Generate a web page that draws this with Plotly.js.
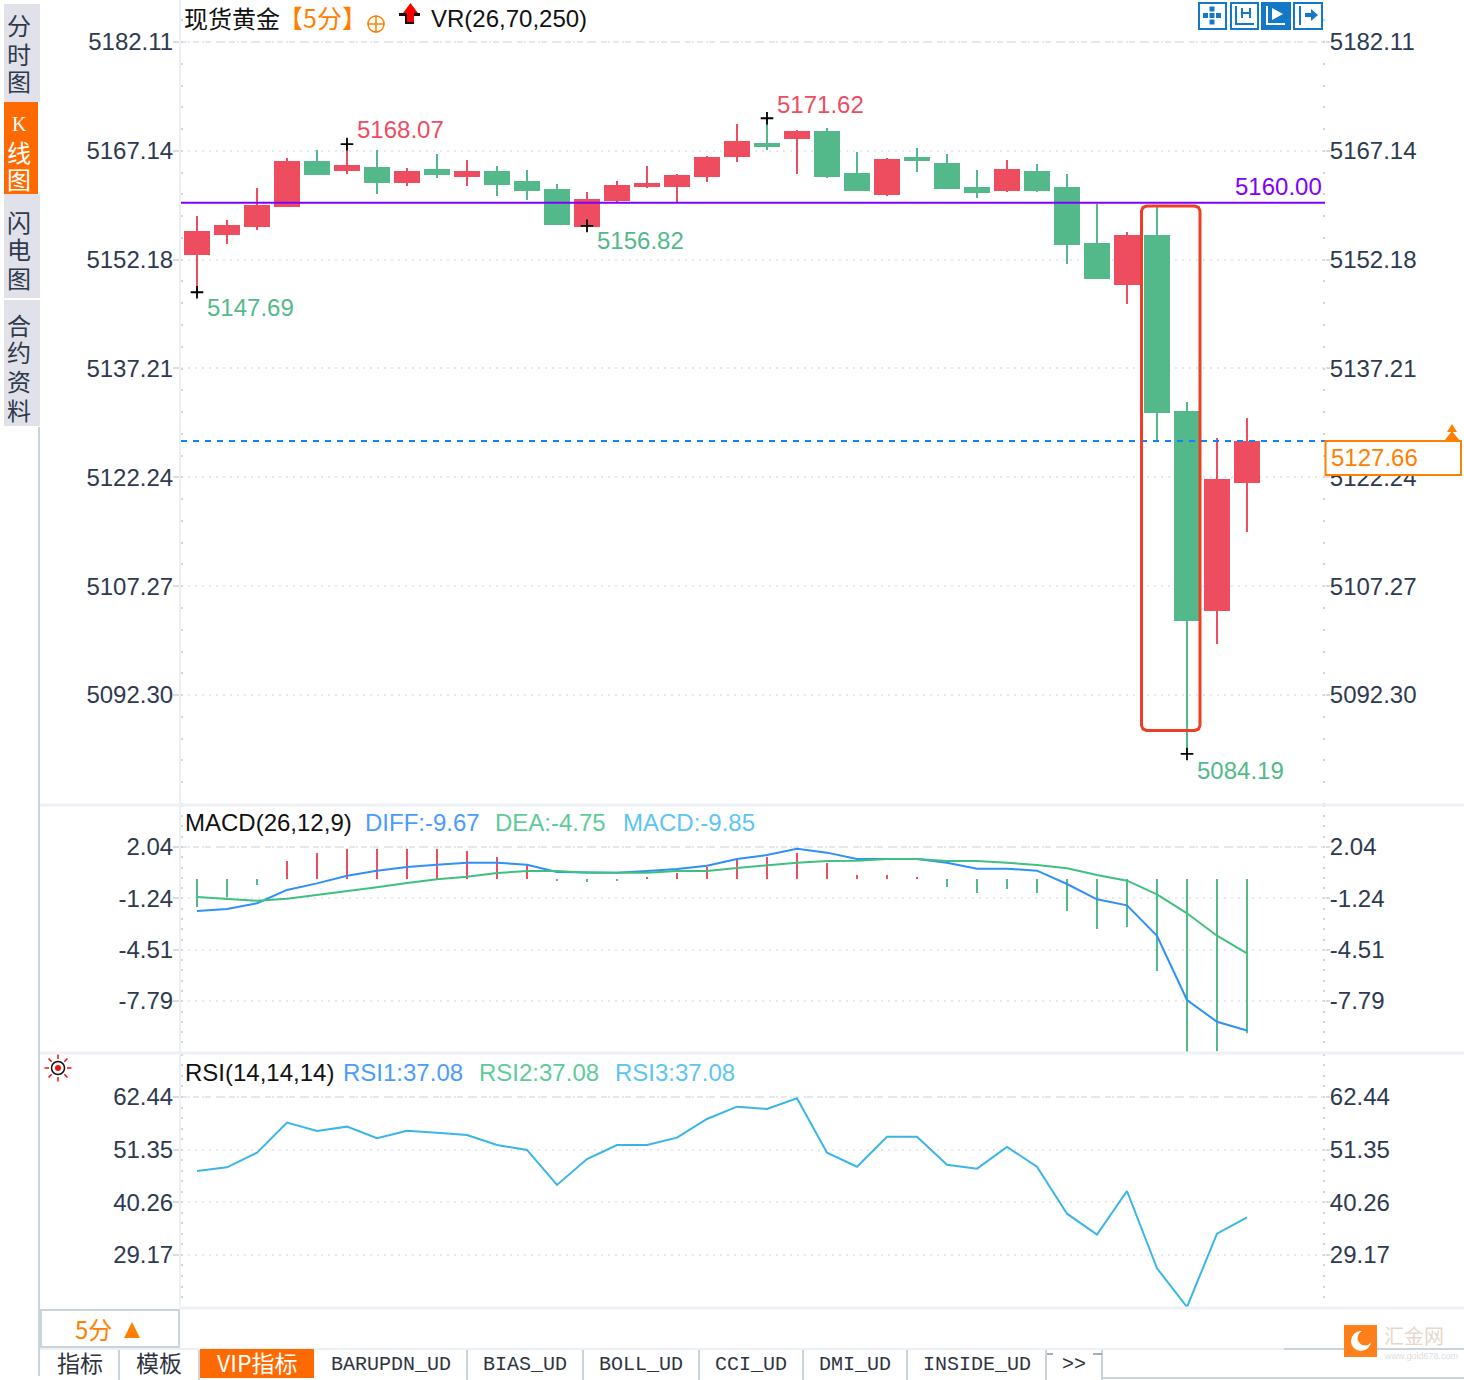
<!DOCTYPE html>
<html><head><meta charset="utf-8">
<script src="https://cdn.plot.ly/plotly-3.0.1.min.js"></script>
<style>html,body{margin:0;padding:0;background:#fff}#c{width:1464px;height:1380px}</style>
</head><body><div id="c"></div>
<script>
// ---------- data ----------
const candleIndex = [...Array(36).keys()];
const open  = [5152.95,5155.70,5156.80,5159.55,5165.61,5164.51,5164.78,5162.86,5164.51,5163.68,5164.23,5162.86,5161.76,5156.82,5160.38,5162.31,5162.31,5163.68,5166.43,5168.08,5168.91,5169.73,5163.96,5161.21,5166.16,5165.33,5162.03,5161.76,5164.23,5162.03,5154.33,5148.83,5155.43,5131.22,5104.00,5121.60];
const close = [5155.98,5156.80,5159.55,5165.61,5163.96,5165.06,5162.86,5164.23,5163.96,5164.23,5162.58,5161.76,5157.08,5160.38,5162.31,5162.58,5163.68,5166.16,5168.36,5167.81,5169.73,5163.68,5161.76,5165.88,5165.88,5162.03,5161.48,5164.51,5161.76,5154.33,5149.65,5155.43,5131.22,5102.62,5121.87,5127.10];
const high  = [5158.18,5157.63,5162.03,5166.16,5167.26,5168.07,5167.26,5164.78,5166.71,5165.88,5165.06,5164.51,5162.58,5161.48,5163.00,5165.06,5163.96,5166.43,5170.83,5171.62,5170.01,5170.28,5166.98,5166.16,5167.53,5166.71,5164.51,5165.88,5165.33,5163.96,5159.83,5155.98,5159.42,5132.60,5127.65,5130.40];
const low   = [5147.69,5154.33,5156.25,5159.55,5163.96,5163.96,5161.21,5162.31,5163.41,5162.31,5160.93,5160.38,5157.08,5156.82,5159.97,5162.03,5160.11,5162.86,5165.61,5167.26,5163.96,5163.41,5161.76,5160.93,5164.23,5162.03,5160.66,5161.48,5161.48,5151.58,5149.65,5146.08,5127.37,5084.19,5099.32,5114.72];
const markedIndex = [0,5,13,19,33];
const markedPrice = [5147.69,5168.07,5156.82,5171.62,5084.19];
const priceTicks = [5182.11,5167.14,5152.18,5137.21,5122.24,5107.27,5092.30];
const supportLevel = 5160.00;
const lastLineLevel = 5127.23;

const diff = [-2.04,-1.92,-1.55,-0.70,-0.28,0.21,0.53,0.76,0.91,1.04,1.04,0.91,0.44,0.40,0.40,0.51,0.64,0.85,1.27,1.53,1.93,1.68,1.27,1.27,1.27,1.04,0.66,0.66,0.53,-0.32,-1.30,-1.68,-3.62,-7.72,-9.11,-9.67];
const dea  = [-1.15,-1.26,-1.39,-1.26,-1.02,-0.81,-0.53,-0.26,-0.02,0.14,0.38,0.51,0.51,0.40,0.40,0.40,0.51,0.51,0.70,0.89,1.04,1.15,1.17,1.27,1.27,1.15,1.15,1.04,0.89,0.68,0.25,-0.11,-0.98,-2.19,-3.62,-4.75];
const macd = [-1.79,-1.19,-0.38,1.15,1.66,1.91,1.91,1.91,1.91,1.79,1.40,0.89,-0.13,-0.20,-0.13,0.13,0.38,0.77,1.28,1.40,1.66,1.02,0.26,0.26,0.13,-0.51,-0.89,-0.64,-0.89,-2.04,-3.19,-3.06,-5.87,-11.1,-11.0,-9.85];
const macdTicks = [2.04,-1.24,-4.51,-7.79];

const rsi = [46.86,47.63,50.71,57.03,55.28,56.19,53.74,55.34,54.92,54.44,52.33,51.28,43.91,49.38,52.33,52.33,53.87,57.81,60.40,59.91,62.17,50.71,47.76,54.08,54.08,48.18,47.34,51.91,47.76,37.86,33.44,42.64,26.36,18.21,33.65,37.08];
const rsiTicks = [62.44,51.35,40.26,29.17];

const sideTabs = [
  {chars:['分','时','图'],ys:[25,53,81],color:'#2f3a4c'},
  {chars:['K','线','图'],ys:[124,151,179],color:'#ffffff'},
  {chars:['闪','电','图'],ys:[221,249,277],color:'#2f3a4c'},
  {chars:['合','约','资','料'],ys:[325,352,380,409],color:'#2f3a4c'}
];
const bottomTabs = [
  {text:'指标',x0:41,x1:119},{text:'模板',x0:119,x1:199},{text:'VIP指标',x0:199,x1:315,active:true},
  {text:'BARUPDN_UD',x0:315,x1:467},{text:'BIAS_UD',x0:467,x1:583},{text:'BOLL_UD',x0:583,x1:699},
  {text:'CCI_UD',x0:699,x1:803},{text:'DMI_UD',x0:803,x1:907},{text:'INSIDE_UD',x0:907,x1:1046},{text:'>>',x0:1046,x1:1102}
];

// ---------- layout helpers ----------
const W=1464,H=1380;
const RED='#ee4d5f',GREEN='#53b98a',ORANGE='#ff8000',BLUE='#1478c8',INK='#2e3a50',LINE='#c9d3dc',PALE='#edf1f5';
const SANS='"Liberation Sans",Arial,sans-serif', CJK='"Noto Sans CJK SC","Liberation Sans",sans-serif', MONO='"Liberation Mono",monospace';
const px=x=>x/W, py=y=>1-y/H;
const shapes=[],annotations=[];
function rect(x0,y0,x1,y1,fill,line,lw){shapes.push({type:'rect',xref:'paper',yref:'paper',x0:px(x0),x1:px(x1),y0:py(y1),y1:py(y0),fillcolor:fill||'rgba(0,0,0,0)',line:{color:line||'rgba(0,0,0,0)',width:line?(lw||2):0},layer:'above'});}
function seg(x0,y0,x1,y1,color,lw,dash){shapes.push({type:'line',xref:'paper',yref:'paper',x0:px(x0),x1:px(x1),y0:py(y0),y1:py(y1),line:{color,width:lw||2,dash:dash||'solid'},layer:'above'});}
function circle(cx,cy,r,fill,line,lw){shapes.push({type:'circle',xref:'paper',yref:'paper',x0:px(cx-r),x1:px(cx+r),y0:py(cy+r),y1:py(cy-r),fillcolor:fill||'rgba(0,0,0,0)',line:{color:line||'rgba(0,0,0,0)',width:line?(lw||2):0},layer:'above'});}
function poly(pts,fill,line,lw,closed){const d=pts.map((p,i)=>(i?'L':'M')+px(p[0])+' '+py(p[1])).join(' ')+(closed===false?'':' Z');shapes.push({type:'path',xref:'paper',yref:'paper',path:d,fillcolor:fill||'rgba(0,0,0,0)',line:{color:line||'rgba(0,0,0,0)',width:line?(lw||2):0},layer:'above'});}
function label(x,y,text,color,size,anchor,family){annotations.push({xref:'paper',yref:'paper',x:px(x),y:py(y),text,showarrow:false,xanchor:anchor||'left',yanchor:'middle',borderpad:0,font:{color,size:size||24,family:family||SANS}});}

// sidebar
rect(4,4,40,102,'#e0e1e9');rect(4,102,38,194,'#ff6a00');rect(4,194,40,298,'#e0e1e9');rect(4,300,40,426,'#e0e1e9');
seg(39,427,39,1376,LINE,2);
sideTabs.forEach(t=>t.chars.forEach((c,i)=>label(19,t.ys[i],c,t.color,c==='K'?20:24,'center',c==='K'?'"Liberation Serif",serif':CJK)));

// panel separators
seg(40,805,1464,805,PALE,3);seg(40,1053,1464,1053,PALE,3);seg(180,1308,1464,1308,PALE,3);

// header row
label(183,17.5,'现货黄金','#111111',24,'left',CJK);
label(277,17.5,'【5分】',ORANGE,25,'left',CJK);
circle(376,24,8,null,ORANGE,1.5);seg(376,15,376,33,ORANGE,1.5);seg(367,24,385,24,ORANGE,1.5);
poly([[404,13],[399,13],[399,16],[405,16],[405,24],[414,24],[414,16],[420,16],[420,13],[415,13]],'#111111');
poly([[410.5,3],[418,13],[414,13],[414,22],[407,22],[407,13],[403,13]],'#ff0000');
label(430,19,'VR(26,70,250)','#111111',24);

// toolbar icons
rect(1199,3,1226,29,'#ffffff',BLUE,2);
[[1212,9],[1212,22],[1205.5,15.5],[1218.5,15.5],[1212,15.5]].forEach(p=>rect(p[0]-2.5,p[1]-2.5,p[0]+2.5,p[1]+2.5,BLUE));
rect(1231,3,1258,29,'#ffffff',BLUE,2);
poly([[1236,6],[1236,24],[1254,24]],null,BLUE,2,false);seg(1242,8,1242,18,BLUE,2);seg(1250,8,1250,18,BLUE,2);seg(1242,13,1250,13,BLUE,2);
rect(1262,3,1290,29,BLUE,BLUE,2);
poly([[1267,6],[1267,24],[1285,24]],null,'#ffffff',2,false);poly([[1272,8],[1283,14],[1272,20]],'#ffffff');
rect(1294,3,1322,29,'#ffffff',BLUE,2);
seg(1300,6,1300,25,BLUE,2);rect(1305,13,1312,17,BLUE);poly([[1311,9],[1318,15],[1311,21]],BLUE);

// price guides
shapes.push({type:'line',xref:'paper',yref:'y',x0:px(181),x1:px(1325),y0:priceTicks[0],y1:priceTicks[0],line:{color:'#e6e9ec',width:2,dash:'6px,6px'},layer:'below'});
shapes.push({type:'line',xref:'paper',yref:'y2',x0:px(181),x1:px(1325),y0:macdTicks[0],y1:macdTicks[0],line:{color:'#e6e9ec',width:2,dash:'6px,6px'},layer:'below'});
shapes.push({type:'line',xref:'paper',yref:'y3',x0:px(181),x1:px(1325),y0:rsiTicks[0],y1:rsiTicks[0],line:{color:'#e6e9ec',width:2,dash:'6px,6px'},layer:'below'});
shapes.push({type:'line',xref:'paper',yref:'y',x0:px(181),x1:px(1325),y0:supportLevel,y1:supportLevel,line:{color:'#8000ff',width:2},layer:'above'});
shapes.push({type:'line',xref:'paper',yref:'y',x0:px(181),x1:px(1325),y0:lastLineLevel,y1:lastLineLevel,line:{color:'#0a84ff',width:2,dash:'6px,6px'},layer:'above'});
label(1323,186,supportLevel.toFixed(2),'#8000ff',24,'right');

// last price box
rect(1325.5,441,1461,475,'#ffffff',ORANGE,2);
label(1330,457,'5127.66',ORANGE,24);
poly([[1452,424],[1457,432],[1447,432]],ORANGE);poly([[1452,431],[1460,441],[1444,441]],ORANGE);

// highlight frame
(function(){const x0=1141.5,x1=1200,y0=206,y1=730.5,r=5;
 const a=[[x0+r,y0],[x1-r,y0],[x1-1.5,y0+1.5],[x1,y0+r],[x1,y1-r],[x1-1.5,y1-1.5],[x1-r,y1],[x0+r,y1],[x0+1.5,y1-1.5],[x0,y1-r],[x0,y0+r],[x0+1.5,y0+1.5]];
 poly(a,null,'#ee3f26',3);})();

// extreme labels
label(206,308,'5147.69',GREEN);label(356,130,'5168.07',RED);label(596,240,'5156.82',GREEN);label(776,104,'5171.62',RED);label(1196,770,'5084.19',GREEN);

// indicator headers
label(184,822,'MACD(26,12,9)','#111111');label(364,822,'DIFF:-9.67','#4a9cff');label(494,822,'DEA:-4.75','#5ecb98');label(622,822,'MACD:-9.85','#5cc5f5');
label(184,1072,'RSI(14,14,14)','#111111');label(342,1072,'RSI1:37.08','#4a9cff');label(478,1072,'RSI2:37.08','#5ecb98');label(614,1072,'RSI3:37.08','#5cc5f5');

// sun icon
circle(58,1068,6.5,'#ffffff','#111111',1.5);circle(58,1068,3,'#ee1111');
[[0,-1],[0,1],[-1,0],[1,0],[-.7,-.7],[.7,-.7],[-.7,.7],[.7,.7]].forEach(d=>seg(58+d[0]*9,1068+d[1]*9,58+d[0]*13.5,1068+d[1]*13.5,'#ee1111',1.5));

// period box
rect(41,1310,179,1347,'#ffffff',LINE,2);
label(74,1328,'5分',ORANGE,24,'left',CJK);poly([[132,1322],[140,1338],[124,1338]],ORANGE);

// bottom tabs
seg(40,1349,1284,1349,PALE,2);seg(1284,1349,1464,1349,LINE,2);seg(1102,1378,1464,1378,LINE,2);seg(1102,1350,1102,1380,LINE,2);
seg(1047,1354,1053,1354,'#8a93a0',1.5);seg(1093,1354,1102,1354,'#8a93a0',1.5);
bottomTabs.forEach((t,i)=>{
  if(t.active) rect(t.x0+1,1349,t.x1-1,1378,'#ff6a00');
  else if(i<bottomTabs.length-1) seg(t.x1,1350,t.x1,1380,LINE,2);
  const cx=(t.x0+t.x1)/2,hasCJK=/[^\x00-\x7f]/.test(t.text);
  label(cx,hasCJK?1362:1364,t.text,t.active?'#ffffff':'#2e3440',hasCJK?23:20,'center',hasCJK?CJK:MONO);
});

// watermark
rect(1344,1325,1377,1357,'#ff7f1a');
circle(1361,1341,10,'#ffffff');circle(1365,1338,7.5,'#ff7f1a');
label(1383,1335,'汇金网','#e5d8cc',20,'left',CJK);
label(1383,1356,'www.gold678.com','#dddddd',9);

// ---------- traces ----------
const traces=[
 {type:'candlestick',x:candleIndex,open,high,low,close,xaxis:'x',yaxis:'y',whiskerwidth:0,
  increasing:{line:{color:RED,width:2},fillcolor:RED},decreasing:{line:{color:GREEN,width:2},fillcolor:GREEN},hoverinfo:'skip'},
 {type:'scatter',mode:'markers',x:markedIndex,y:markedPrice,xaxis:'x',yaxis:'y',marker:{symbol:'cross-thin',size:9,line:{color:'#000000',width:1.8},color:'#000000'},hoverinfo:'skip'},
 {type:'bar',x:candleIndex,y:macd,xaxis:'x',yaxis:'y2',width:0.066,marker:{color:macd.map(v=>v>=0?RED:GREEN),line:{width:0}},hoverinfo:'skip'},
 {type:'scatter',mode:'lines',x:candleIndex,y:diff,xaxis:'x',yaxis:'y2',line:{color:'#2e90f8',width:2},hoverinfo:'skip'},
 {type:'scatter',mode:'lines',x:candleIndex,y:dea,xaxis:'x',yaxis:'y2',line:{color:'#40c080',width:2},hoverinfo:'skip'},
 {type:'scatter',mode:'lines',x:candleIndex,y:rsi,xaxis:'x',yaxis:'y3',line:{color:'#3ab5e8',width:2},hoverinfo:'skip'},
 {type:'scatter',mode:'none',x:[0],y:[priceTicks[0]],xaxis:'x',yaxis:'y4',hoverinfo:'skip'},
 {type:'scatter',mode:'none',x:[0],y:[macdTicks[0]],xaxis:'x',yaxis:'y5',hoverinfo:'skip'},
 {type:'scatter',mode:'none',x:[0],y:[rsiTicks[0]],xaxis:'x',yaxis:'y6',hoverinfo:'skip'}
];

function yAxis(range,domain,ticks,step,grid){
  return {range,domain,tickmode:'array',tickvals:ticks,ticktext:ticks.map(v=>v.toFixed(2)),fixedrange:true,zeroline:false,
    anchor:'x',showgrid:grid,gridcolor:'#e6e9ec',gridwidth:2,griddash:'2px,5px',
    showline:grid,linecolor:PALE,linewidth:2,ticks:'outside',ticklen:grid?6:4,tickcolor:'#d8dde2',tickwidth:2,ticklabelstandoff:-5,
    tickfont:{family:SANS,size:24,color:INK},
    minor:{tickmode:'array',tickvals:Array.from({length:Math.round((range[1]-range[0])/step)+11},(_,i)=>ticks[0]-(i-5)*step).filter(v=>v>range[0]&&v<range[1]),ticks:'inside',ticklen:2,tickwidth:2,tickcolor:'#cfd5da',showgrid:false}};
}
const priceRange=[5077.17,5187.886],macdRange=[-11.04,4.72],rsiRange=[18.0,71.7];
const priceDom=[py(805),1],macdDom=[py(1052),py(805)],rsiDom=[py(1308),py(1053)];
const priceStep=(priceTicks[0]-priceTicks[1])/5,macdStep=(macdTicks[0]-macdTicks[1])/5,rsiStep=(rsiTicks[0]-rsiTicks[1])/5;

const layout={
 width:W,height:H,margin:{l:0,r:0,t:0,b:0},paper_bgcolor:'#ffffff',plot_bgcolor:'#ffffff',showlegend:false,
 hovermode:false,dragmode:false,boxgap:0.2,boxgroupgap:0,barmode:'overlay',
 xaxis:{domain:[px(181),px(1325)],range:[(181-197)/30,(1325-197)/30],visible:false,fixedrange:true,rangeslider:{visible:false},anchor:'y3'},
 yaxis:yAxis(priceRange,priceDom,priceTicks,priceStep,true),
 yaxis2:yAxis(macdRange,macdDom,macdTicks,macdStep,true),
 yaxis3:yAxis(rsiRange,rsiDom,rsiTicks,rsiStep,true),
 yaxis4:Object.assign(yAxis(priceRange,priceDom,priceTicks,priceStep,false),{overlaying:'y',side:'right'}),
 yaxis5:Object.assign(yAxis(macdRange,macdDom,macdTicks,macdStep,false),{overlaying:'y2',side:'right'}),
 yaxis6:Object.assign(yAxis(rsiRange,rsiDom,rsiTicks,rsiStep,false),{overlaying:'y3',side:'right'}),
 shapes,annotations
};
Plotly.newPlot('c',traces,layout,{displayModeBar:false,staticPlot:true});
</script></body></html>
